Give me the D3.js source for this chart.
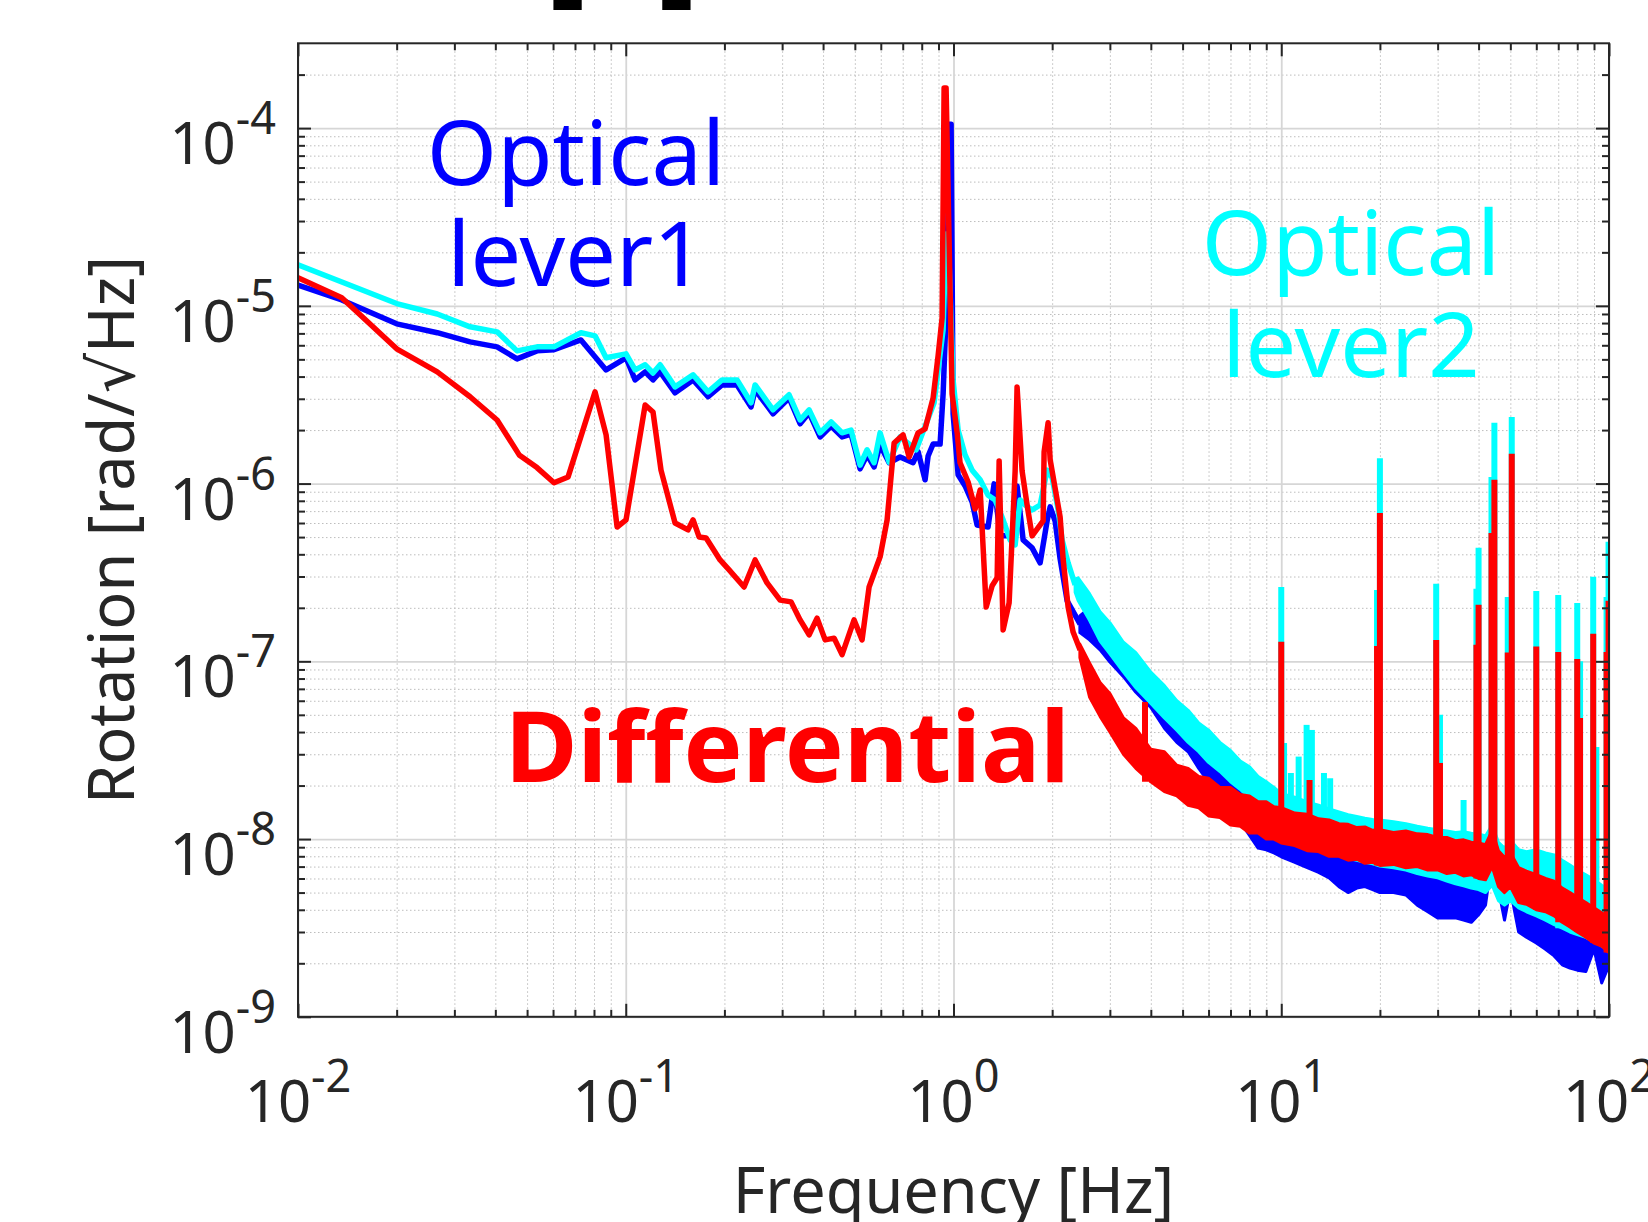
<!DOCTYPE html>
<html>
<head>
<meta charset="utf-8">
<script src="https://cdnjs.cloudflare.com/ajax/libs/d3/7.8.5/d3.min.js"></script>
<style>
  body { margin: 0; background: #fff; }
  svg text { font-family: "Noto Sans", "DejaVu Sans", sans-serif; }
  .grid .domain, .ticks .domain { display: none; }
</style>
</head>
<body>
<div id="chart"></div>
<script>
// tick labels (powers of ten)
var xTickExp = [-2, -1, 0, 1, 2];
var yTickExp = [-9, -8, -7, -6, -5, -4];

// Optical lever1 (blue): [Hz, rad/rtHz]
var lever1Line = [
  [0.01,1.31e-5],[0.0136,1.08e-5],[0.0200,7.92e-6],[0.0266,7.06e-6],[0.0335,6.27e-6],
  [0.0405,5.88e-6],[0.0466,5.03e-6],[0.0536,5.58e-6],[0.0604,5.66e-6],[0.0730,6.43e-6],
  [0.0871,4.36e-6],[0.1002,5.10e-6],[0.1068,3.83e-6],[0.1146,4.25e-6],[0.1211,3.83e-6],
  [0.1273,4.25e-6],[0.1414,3.24e-6],[0.1605,3.83e-6],[0.1783,3.08e-6],[0.1967,3.59e-6],
  [0.2186,3.59e-6],[0.2412,2.70e-6],[0.2481,3.37e-6],[0.2815,2.47e-6],[0.3150,3.03e-6],
  [0.3404,2.17e-6],[0.3627,2.50e-6],[0.3917,1.83e-6],[0.4233,2.11e-6],[0.4571,1.83e-6],
  [0.4870,1.90e-6],[0.5188,1.21e-6],[0.5450,1.45e-6],[0.5724,1.24e-6],[0.5970,1.65e-6],
  [0.6362,1.31e-6],[0.6871,1.41e-6],[0.7530,1.31e-6],[0.7798,1.51e-6],[0.8191,1.05e-6],
  [0.8366,1.43e-6],[0.8666,1.67e-6],[0.9102,1.67e-6],[0.9296,3.20e-6],[0.9561,1.28e-5],
  [0.9696,1.05e-4],[0.9834,1.05e-4],[0.9972,2.47e-6],[1.033,1.12e-6],[1.085,9.70e-7],
  [1.140,7.87e-7],[1.180,5.85e-7],[1.275,5.70e-7],[1.330,9.96e-7],[1.388,5.08e-7],
  [1.488,5.08e-7],[1.542,4.70e-7],[1.563,9.70e-7],[1.631,4.82e-7],[1.737,4.35e-7],
  [1.838,3.58e-7],[1.930,6.16e-7],[1.972,7.40e-7],[2.042,6.16e-7],[2.115,3.77e-7],
  [2.222,2.19e-7],[2.434,1.62e-7]
];
// noise band: [Hz, low edge, high edge]
var lever1Band = [
  [2.43,1.45e-7,1.80e-7],[2.6,1.32e-7,2.0e-7],[2.8,1.16e-7,1.71e-7],[3.0,9.9e-8,1.44e-7],
  [3.3,8.2e-8,1.16e-7],[3.6,6.7e-8,9.5e-8],[4.0,5.5e-8,7.9e-8],[4.4,4.2e-8,6.5e-8],
  [4.8,3.5e-8,5.5e-8],[5.2,3.1e-8,4.7e-8],[5.6,2.5e-8,4.0e-8],[6.0,2.1e-8,3.5e-8],
  [6.5,1.66e-8,3.0e-8],[7.0,1.42e-8,2.5e-8],[7.5,1.25e-8,2.15e-8],[8.0,1.05e-8,1.9e-8],
  [8.5,8.9e-9,1.66e-8],[9.0,8.7e-9,1.5e-8],[9.5,8.35e-9,1.42e-8],[10,7.95e-9,1.37e-8],
  [11,7.4e-9,1.28e-8],[12,6.9e-9,1.2e-8],[13,6.5e-9,1.13e-8],[14,6.05e-9,1.05e-8],
  [15,5.4e-9,9.9e-9],[16,5.0e-9,9.6e-9],[17,5.3e-9,9.25e-9],[18,5.4e-9,8.9e-9],
  [19,5.2e-9,8.7e-9],[20,5.0e-9,8.5e-9],[22,5.0e-9,8.15e-9],[24,4.85e-9,7.85e-9],
  [26,4.25e-9,7.4e-9],[28,3.9e-9,7.0e-9],[30,3.6e-9,6.7e-9],[32,3.6e-9,6.5e-9],
  [34,3.6e-9,6.35e-9],[36,3.5e-9,6.2e-9],[38,3.4e-9,6.05e-9],[40,3.75e-9,6.3e-9],
  [42,4.25e-9,6.7e-9],[44,7.9e-9,1.05e-8],[46,5.2e-9,6.7e-9],[48,3.5e-9,5.5e-9],
  [50,5.2e-9,7.6e-9],[53,3.0e-9,4.85e-9],[56,2.8e-9,4.5e-9],[60,2.6e-9,4.25e-9],
  [64,2.4e-9,4.0e-9],[68,2.2e-9,3.75e-9],[72,1.96e-9,3.5e-9],[76,1.88e-9,3.25e-9],
  [80,1.83e-9,3.15e-9],[85,1.8e-9,3.0e-9],[90,2.4e-9,4.0e-9],[95,1.55e-9,2.55e-9],
  [100,1.95e-9,2.9e-9]
];

// Optical lever2 (cyan)
var lever2Line = [
  [0.01,1.70e-5],[0.0200,1.03e-5],[0.0266,9.0e-6],[0.0335,7.62e-6],[0.0405,7.14e-6],
  [0.0466,5.58e-6],[0.0536,5.88e-6],[0.0604,5.88e-6],[0.0730,7.06e-6],[0.0806,6.78e-6],
  [0.0871,5.10e-6],[0.1002,5.37e-6],[0.1068,4.36e-6],[0.1146,4.66e-6],[0.1211,4.19e-6],
  [0.1273,4.66e-6],[0.1414,3.50e-6],[0.1605,4.09e-6],[0.1783,3.28e-6],[0.1967,3.83e-6],
  [0.2186,3.83e-6],[0.2412,2.85e-6],[0.2481,3.59e-6],[0.2815,2.60e-6],[0.3150,3.16e-6],
  [0.3404,2.28e-6],[0.3627,2.60e-6],[0.3917,1.93e-6],[0.4233,2.22e-6],[0.4571,1.93e-6],
  [0.4870,2.0e-6],[0.5188,1.27e-6],[0.5450,1.55e-6],[0.5724,1.31e-6],[0.5970,1.93e-6],
  [0.6362,1.32e-6],[0.6871,1.83e-6],[0.7691,1.55e-6],[0.8727,2.85e-6],[0.9296,7.34e-6],
  [0.9493,2.54e-5],[0.9628,2.54e-5],[0.9972,3.83e-6],[1.033,2.0e-6],[1.085,1.45e-6],
  [1.140,1.19e-6],[1.206,1.05e-6],[1.275,8.6e-7],[1.340,8.09e-7],[1.417,6.25e-7],
  [1.488,4.82e-7],[1.542,4.52e-7],[1.597,8.09e-7],[1.654,7.58e-7],[1.737,7.11e-7],
  [1.838,7.58e-7],[1.930,1.19e-6],[2.000,1.08e-6],[2.086,7.11e-7],[2.145,4.82e-7],
  [2.237,3.58e-7],[2.350,2.69e-7]
];
var lever2Band = [
  [2.35,2.45e-7,2.9e-7],[2.4,2.2e-7,2.95e-7],[2.6,1.7e-7,2.4e-7],[2.8,1.3e-7,1.9e-7],
  [3.0,1.1e-7,1.65e-7],[3.3,8.7e-8,1.28e-7],[3.6,7.1e-8,1.12e-7],[4.0,5.8e-8,8.7e-8],
  [4.4,4.8e-8,7.3e-8],[4.8,4.1e-8,6.0e-8],[5.2,3.5e-8,5.3e-8],[5.6,3.1e-8,4.5e-8],
  [6.0,2.7e-8,4.1e-8],[6.5,2.4e-8,3.5e-8],[7.0,2.1e-8,3.15e-8],[7.5,1.9e-8,2.75e-8],
  [8.0,1.7e-8,2.55e-8],[8.5,1.55e-8,2.25e-8],[9.0,1.42e-8,2.1e-8],[9.5,1.31e-8,1.95e-8],
  [10,1.2e-8,1.8e-8],[11,1.05e-8,1.72e-8],[12,9.9e-9,1.62e-8],[13,9.3e-9,1.55e-8],
  [14,8.7e-9,1.48e-8],[15,8.2e-9,1.42e-8],[16,7.8e-9,1.37e-8],[17,7.6e-9,1.34e-8],
  [18,7.4e-9,1.31e-8],[19,7.25e-9,1.29e-8],[20,7.05e-9,1.28e-8],[22,6.9e-9,1.25e-8],
  [24,6.7e-9,1.22e-8],[26,6.4e-9,1.18e-8],[28,6.2e-9,1.15e-8],[30,6.05e-9,1.13e-8],
  [32,5.8e-9,1.11e-8],[34,5.6e-9,1.09e-8],[36,5.45e-9,1.1e-8],[38,5.3e-9,1.08e-8],
  [40,5.2e-9,1.07e-8],[42,5.0e-9,1.04e-8],[44,5.5e-9,1.2e-8],[46,4.5e-9,9.6e-9],
  [48,4.25e-9,8.9e-9],[50,4.5e-9,9.9e-9],[53,4.1e-9,8.7e-9],[56,3.9e-9,8.5e-9],
  [60,3.7e-9,8.7e-9],[64,3.5e-9,8.35e-9],[68,3.3e-9,8.15e-9],[72,3.15e-9,7.6e-9],
  [76,3.0e-9,7.15e-9],[80,2.9e-9,6.7e-9],[85,2.8e-9,6.3e-9],[90,2.65e-9,5.9e-9],
  [95,2.5e-9,5.5e-9],[100,2.4e-9,5.2e-9]
];
// line peaks: [Hz, peak]
var lever2Spikes = [
  [9.2,2.0e-8],[10,2.62e-7],[10.2,3.47e-8],[10.7,2.35e-8],[11.3,2.91e-8],[11.95,4.39e-8],
  [12.4,4.11e-8],[13.5,2.35e-8],[14.1,2.2e-8],[14.6,1.4e-8],[19.6,2.52e-7],[20,1.39e-6],
  [29.7,2.73e-7],[30.5,5.0e-8],[36,1.66e-8],[39.4,2.56e-7],[40,4.35e-7],[43.8,1.09e-6],
  [44.7,2.20e-6],[49.1,2.30e-7],[50.5,2.37e-6],[60,2.49e-7],[70,2.36e-7],[80,2.13e-7],
  [81.6,1.0e-7],[89.5,2.99e-7],[91.5,3.3e-8],[98.3,2.30e-7],[99.7,4.70e-7]
];

// Differential (red)
var diffLine = [
  [0.01,1.44e-5],[0.0136,1.11e-5],[0.0200,5.73e-6],[0.0266,4.25e-6],[0.0335,3.08e-6],
  [0.0405,2.28e-6],[0.0473,1.45e-6],[0.0536,1.23e-6],[0.0604,1.01e-6],[0.0667,1.09e-6],
  [0.0806,3.28e-6],[0.0871,1.88e-6],[0.0941,5.70e-7],[0.1002,6.25e-7],[0.1146,2.77e-6],
  [0.1211,2.53e-6],[0.1281,1.19e-6],[0.1414,6.0e-7],[0.1549,5.49e-7],[0.1605,6.25e-7],
  [0.1674,5.01e-7],[0.1759,4.94e-7],[0.1940,3.72e-7],[0.2067,3.27e-7],[0.2296,2.62e-7],
  [0.2481,3.72e-7],[0.2699,2.76e-7],[0.2958,2.21e-7],[0.3195,2.16e-7],[0.3404,1.71e-7],
  [0.3627,1.41e-7],[0.3835,1.75e-7],[0.4058,1.32e-7],[0.4323,1.35e-7],[0.4571,1.09e-7],
  [0.4974,1.71e-7],[0.5261,1.32e-7],[0.5527,2.62e-7],[0.5970,3.87e-7],[0.6273,6.25e-7],
  [0.6589,1.69e-6],[0.7018,1.88e-6],[0.7321,1.41e-6],[0.7798,1.93e-6],[0.8191,2.03e-6],
  [0.8666,3.03e-6],[0.8974,5.23e-6],[0.9231,8.57e-6],[0.9361,1.68e-4],[0.9493,1.68e-4],
  [0.9902,3.20e-6],[1.026,1.93e-6],[1.047,1.31e-6],[1.108,1.02e-6],[1.164,7.2e-7],
  [1.206,9.2e-7],[1.258,2.02e-7],[1.312,2.66e-7],[1.359,2.95e-7],[1.378,1.34e-6],
  [1.417,1.50e-7],[1.478,2.13e-7],[1.542,1.18e-6],[1.563,3.50e-6],[1.619,1.18e-6],
  [1.677,7.58e-7],[1.737,5.08e-7],[1.877,6.16e-7],[1.890,1.51e-6],[1.944,2.20e-6],
  [1.972,1.36e-6],[2.115,6.49e-7],[2.160,3.77e-7],[2.237,2.02e-7],[2.317,1.46e-7],
  [2.434,1.16e-7]
];
var diffBand = [
  [2.43,1.05e-7,1.25e-7],[2.6,6.3e-8,9.8e-8],[2.8,4.9e-8,7.6e-8],[3.0,4.0e-8,6.6e-8],
  [3.3,3.0e-8,4.8e-8],[3.6,2.5e-8,4.2e-8],[4.0,2.1e-8,3.2e-8],[4.4,1.85e-8,3.1e-8],
  [4.8,1.75e-8,2.6e-8],[5.2,1.55e-8,2.5e-8],[5.6,1.5e-8,2.25e-8],[6.0,1.35e-8,2.2e-8],
  [6.5,1.32e-8,1.95e-8],[7.0,1.2e-8,1.95e-8],[7.5,1.18e-8,1.78e-8],[8.0,1.08e-8,1.75e-8],
  [8.5,1.08e-8,1.62e-8],[9.0,1.0e-8,1.62e-8],[9.5,1.0e-8,1.52e-8],[10,9.5e-9,1.5e-8],
  [11,9.2e-9,1.4e-8],[12,8.6e-9,1.38e-8],[13,8.5e-9,1.3e-8],[14,8.0e-9,1.28e-8],
  [15,8.0e-9,1.22e-8],[16,7.6e-9,1.21e-8],[17,7.7e-9,1.16e-8],[18,7.3e-9,1.17e-8],
  [19,7.4e-9,1.12e-8],[20,7.1e-9,1.13e-8],[22,7.2e-9,1.09e-8],[24,6.9e-9,1.11e-8],
  [26,7.0e-9,1.07e-8],[28,6.7e-9,1.06e-8],[30,6.7e-9,1.02e-8],[32,6.4e-9,1.02e-8],
  [34,6.5e-9,9.8e-9],[36,6.2e-9,9.9e-9],[38,6.3e-9,9.6e-9],[40,6.0e-9,9.5e-9],
  [42,5.9e-9,9.3e-9],[44,7.0e-9,1.12e-8],[46,5.4e-9,8.6e-9],[48,5.0e-9,7.9e-9],
  [50,5.4e-9,8.4e-9],[53,4.4e-9,6.9e-9],[56,4.3e-9,6.6e-9],[60,4.0e-9,6.3e-9],
  [64,3.9e-9,6.0e-9],[68,3.7e-9,5.8e-9],[72,3.4e-9,5.3e-9],[76,3.2e-9,5.0e-9],
  [80,3.0e-9,4.7e-9],[85,2.8e-9,4.4e-9],[90,2.6e-9,4.1e-9],[95,2.5e-9,3.85e-9],
  [100,2.3e-9,3.6e-9]
];
var diffSpikes = [
  [3.84,5.9e-8],[10,1.29e-7],[12.2,2.15e-8],[19.6,1.22e-7],[20,6.84e-7],[29.7,1.32e-7],
  [30.5,2.68e-8],[39.4,1.24e-7],[40,2.08e-7],[43.8,5.28e-7],[44.7,1.05e-6],[49.1,1.12e-7],
  [50.5,1.47e-6],[60,1.21e-7],[70,1.13e-7],[80,1.03e-7],[81.6,4.8e-8],[89.5,1.43e-7],
  [98.3,1.13e-7],[99.7,2.19e-7]
];

var W = 1648, H = 1222;
var padL = 298, padR = 1609, padT = 43.3, padB = 1016.8;
var axisColor = "#262626";

var svg = d3.select("#chart").append("svg").attr("width", W).attr("height", H);
svg.append("rect").attr("width", W).attr("height", H).attr("fill", "#fff");

var x = d3.scaleLog().domain([0.01, 100]).range([padL, padR]);
var y = d3.scaleLog().domain([1e-9, 3e-4]).range([padB, padT]);

var xMajor = xTickExp.map(function(e) { return Math.pow(10, e); });
var yMajor = yTickExp.map(function(e) { return Math.pow(10, e); });
var xMinor = [], yMinor = [];
xTickExp.slice(0, -1).forEach(function(e) {
  for (var m = 2; m <= 9; m++) xMinor.push(m * Math.pow(10, e));
});
yTickExp.forEach(function(e) {
  for (var m = 2; m <= 9; m++) { var v = m * Math.pow(10, e); if (v < 3e-4) yMinor.push(v); }
});

// grid
var plotW = padR - padL, plotH = padB - padT;
function gridStyle(g, major) {
  g.selectAll(".tick line")
    .attr("stroke", major ? "#d6d6d6" : "#bdbdbd")
    .attr("stroke-width", major ? 1.8 : 1)
    .attr("stroke-dasharray", major ? null : "1.5,2.5");
}
svg.append("g").attr("class", "grid").attr("transform", "translate(0," + padB + ")")
  .call(d3.axisBottom(x).tickValues(xMinor).tickSize(-plotH).tickFormat(""))
  .call(gridStyle, false);
svg.append("g").attr("class", "grid").attr("transform", "translate(" + padL + ",0)")
  .call(d3.axisLeft(y).tickValues(yMinor).tickSize(-plotW).tickFormat(""))
  .call(gridStyle, false);
svg.append("g").attr("class", "grid").attr("transform", "translate(0," + padB + ")")
  .call(d3.axisBottom(x).tickValues(xMajor).tickSize(-plotH).tickFormat(""))
  .call(gridStyle, true);
svg.append("g").attr("class", "grid").attr("transform", "translate(" + padL + ",0)")
  .call(d3.axisLeft(y).tickValues(yMajor).tickSize(-plotW).tickFormat(""))
  .call(gridStyle, true);

// data
svg.append("clipPath").attr("id", "plot-clip").append("rect")
  .attr("x", padL).attr("y", padT).attr("width", plotW).attr("height", plotH);
var plot = svg.append("g").attr("clip-path", "url(#plot-clip)");

var line = d3.line().x(function(d) { return x(d[0]); }).y(function(d) { return y(d[1]); });
var band = d3.area()
  .x(function(d) { return x(d[0]); })
  .y0(function(d) { return y(d[1]); })
  .y1(function(d) { return y(d[2]); });

function drawSeries(lineData, bandData, spikes, color) {
  plot.append("path").datum(lineData).attr("d", line)
    .attr("fill", "none").attr("stroke", color).attr("stroke-width", 5.5)
    .attr("stroke-linejoin", "round");
  plot.append("path").datum(bandData).attr("d", band)
    .attr("fill", color).attr("stroke", color).attr("stroke-width", 3)
    .attr("stroke-linejoin", "round");
  if (!spikes) return;
  var bis = d3.bisector(function(d) { return d[0]; });
  plot.selectAll(null).data(spikes).enter().append("line")
    .attr("x1", function(d) { return x(d[0]); })
    .attr("x2", function(d) { return x(d[0]); })
    .attr("y1", function(d) { return y(bandData[bis.center(bandData, d[0])][1]); })
    .attr("y2", function(d) { return y(d[1]); })
    .attr("stroke", color).attr("stroke-width", 6);
}
drawSeries(lever1Line, lever1Band, null, "#0000ff");
drawSeries(lever2Line, lever2Band, lever2Spikes, "#00ffff");
drawSeries(diffLine, diffBand, diffSpikes, "#ff0000");

// axes box with inward ticks on all sides
function tickStyle(g) {
  g.selectAll(".tick line").attr("stroke", axisColor).attr("stroke-width", 2);
}
function sideTicks(axisFn, scale, kind, trans) {
  var vals = kind === "minor" ? (scale === x ? xMinor : yMinor) : (scale === x ? xMajor : yMajor);
  svg.append("g").attr("class", "ticks").attr("transform", trans)
    .call(axisFn(scale).tickValues(vals).tickSize(kind === "minor" ? -7 : -13).tickFormat(""))
    .call(tickStyle);
}
["minor", "major"].forEach(function(k) {
  sideTicks(d3.axisBottom, x, k, "translate(0," + padB + ")");
  sideTicks(d3.axisTop, x, k, "translate(0," + padT + ")");
  sideTicks(d3.axisLeft, y, k, "translate(" + padL + ",0)");
  sideTicks(d3.axisRight, y, k, "translate(" + padR + ",0)");
});
svg.append("rect").attr("x", padL).attr("y", padT).attr("width", plotW).attr("height", plotH)
  .attr("fill", "none").attr("stroke", axisColor).attr("stroke-width", 2);

// tick labels
function powLabel(sel, e) {
  sel.append("tspan").text("10");
  sel.append("tspan").attr("dy", -30).attr("font-size", 45).text(String(e));
}
xTickExp.forEach(function(e) {
  svg.append("text").attr("x", x(Math.pow(10, e))).attr("y", 1122)
    .attr("text-anchor", "middle").attr("font-size", 58).attr("fill", axisColor)
    .call(powLabel, e);
});
yTickExp.forEach(function(e) {
  svg.append("text").attr("x", 276).attr("y", y(Math.pow(10, e)) + 36)
    .attr("text-anchor", "end").attr("font-size", 58).attr("fill", axisColor)
    .call(powLabel, e);
});

// axis titles
svg.append("text").attr("x", (padL + padR) / 2).attr("y", 1213)
  .attr("text-anchor", "middle").attr("font-size", 63).attr("fill", axisColor)
  .text("Frequency [Hz]");
svg.append("text").attr("transform", "translate(134," + ((padT + padB) / 2) + ") rotate(-90)")
  .attr("text-anchor", "middle").attr("font-size", 63).attr("fill", axisColor)
  .text("Rotation [rad/\u221AHz]");

// title remnant at the top edge
svg.append("text").attr("x", 545).attr("y", -9).attr("font-size", 120)
  .attr("font-weight", "bold").attr("fill", "#000").text("[");
svg.append("text").attr("x", 699).attr("y", -9).attr("font-size", 120)
  .attr("text-anchor", "end").attr("font-weight", "bold").attr("fill", "#000").text("]");

// labels in the plot
function note(txt, cx, cy, color, size, weight, anchor) {
  svg.append("text").attr("x", cx).attr("y", cy).attr("text-anchor", anchor || "middle")
    .attr("font-size", size).attr("font-weight", weight || "normal").attr("fill", color).text(txt);
}
note("Optical", 576, 185, "#0000ff", 90);
note("lever1", 576, 286, "#0000ff", 90);
note("Optical", 1351, 275, "#00ffff", 90);
note("lever2", 1351, 377, "#00ffff", 90);
note("Differential", 505, 782, "#ff0000", 99, "bold", "start");
</script>
</body>
</html>
